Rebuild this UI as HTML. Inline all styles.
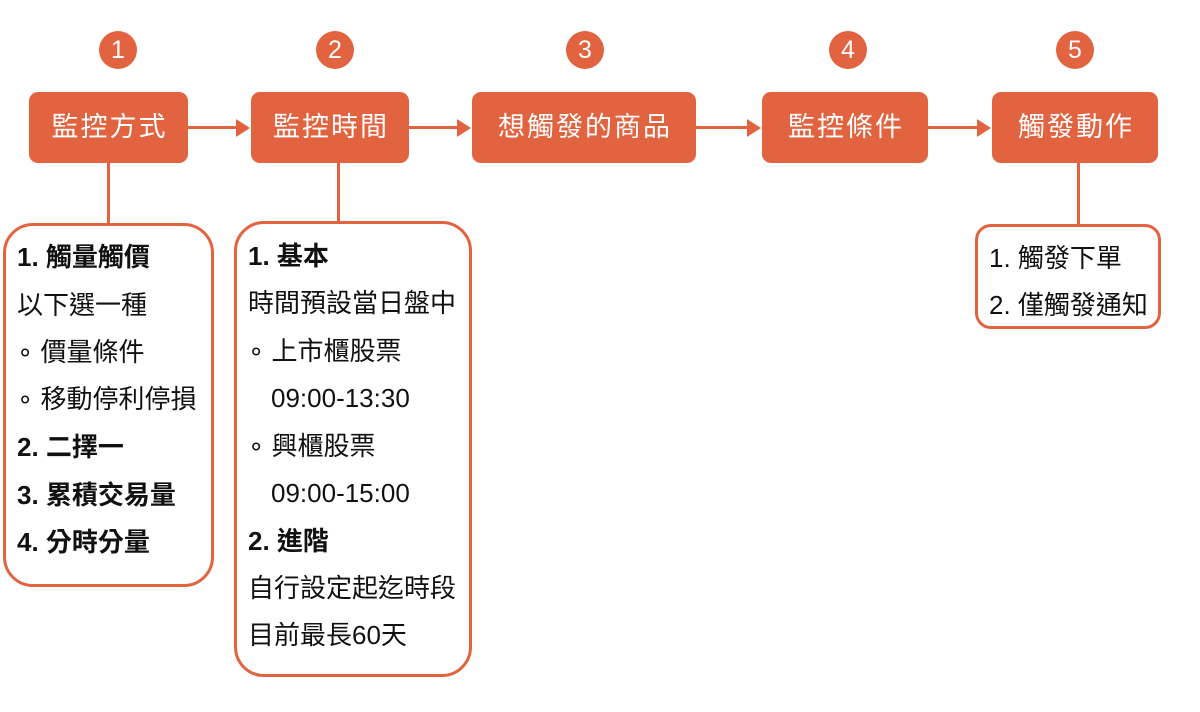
<!DOCTYPE html>
<html><head><meta charset="utf-8"><style>
body{margin:0;width:1200px;height:712px;background:#fff;position:relative;overflow:hidden;font-family:"Liberation Sans","Noto Sans CJK TC",sans-serif}
.c{position:absolute;width:38px;height:38px;border-radius:50%;background:#E2633F;color:#fff;font-size:25px;line-height:38px;text-align:center;top:31px}
.b{position:absolute;top:92px;height:71px;background:#E2633F;border-radius:9px;color:#fff;font-size:27px;line-height:71px;text-align:center;letter-spacing:2px;text-indent:2px}
.v{position:absolute;width:3px;background:#E2633F}
.h{position:absolute;height:3px;background:#E2633F;top:126px}
.ah{position:absolute;top:119px;width:0;height:0;border-top:9px solid transparent;border-bottom:9px solid transparent;border-left:14px solid #E2633F}
.d{position:absolute;border:3px solid #E2633F;box-sizing:border-box;background:#fff}
.t{position:absolute;font-size:26px;color:#111;white-space:nowrap;line-height:30px}
.bo{font-weight:bold}
</style></head><body>
<div class="c" style="left:99px">1</div>
<div class="c" style="left:316px">2</div>
<div class="c" style="left:566px">3</div>
<div class="c" style="left:829px">4</div>
<div class="c" style="left:1056px">5</div>

<div class="b" style="left:29px;width:159px">監控方式</div>
<div class="b" style="left:251px;width:158px">監控時間</div>
<div class="b" style="left:472px;width:224px">想觸發的商品</div>
<div class="b" style="left:762px;width:166px">監控條件</div>
<div class="b" style="left:992px;width:166px">觸發動作</div>

<div class="h" style="left:188px;width:50px"></div><div class="ah" style="left:236px"></div>
<div class="h" style="left:409px;width:50px"></div><div class="ah" style="left:457px"></div>
<div class="h" style="left:696px;width:52px"></div><div class="ah" style="left:747px"></div>
<div class="h" style="left:928px;width:50px"></div><div class="ah" style="left:977px"></div>

<div class="v" style="left:107px;top:163px;height:62px"></div>
<div class="v" style="left:337px;top:163px;height:60px"></div>
<div class="v" style="left:1077px;top:163px;height:63px"></div>

<div class="d" style="left:3px;top:223px;width:211px;height:364px;border-radius:30px"></div>
<div class="d" style="left:234px;top:221px;width:238px;height:456px;border-radius:30px"></div>
<div class="d" style="left:975px;top:224px;width:186px;height:105px;border-radius:16px"></div>

<div class="t bo" style="left:17px;top:242px">1. 觸量觸價</div>
<div class="t" style="left:17px;top:290px">以下選一種</div>
<div class="t" style="left:17px;top:337px">∘ 價量條件</div>
<div class="t" style="left:17px;top:384px">∘ 移動停利停損</div>
<div class="t bo" style="left:17px;top:432px">2. 二擇一</div>
<div class="t bo" style="left:17px;top:480px">3. 累積交易量</div>
<div class="t bo" style="left:17px;top:527px">4. 分時分量</div>

<div class="t bo" style="left:248px;top:241px">1. 基本</div>
<div class="t" style="left:248px;top:288px">時間預設當日盤中</div>
<div class="t" style="left:248px;top:336px">∘ 上市櫃股票</div>
<div class="t" style="left:271px;top:383px">09:00-13:30</div>
<div class="t" style="left:248px;top:431px">∘ 興櫃股票</div>
<div class="t" style="left:271px;top:478px">09:00-15:00</div>
<div class="t bo" style="left:248px;top:526px">2. 進階</div>
<div class="t" style="left:248px;top:573px">自行設定起迄時段</div>
<div class="t" style="left:248px;top:620px">目前最長60天</div>

<div class="t" style="left:989px;top:243px">1. 觸發下單</div>
<div class="t" style="left:989px;top:290px">2. 僅觸發通知</div>
</body></html>
